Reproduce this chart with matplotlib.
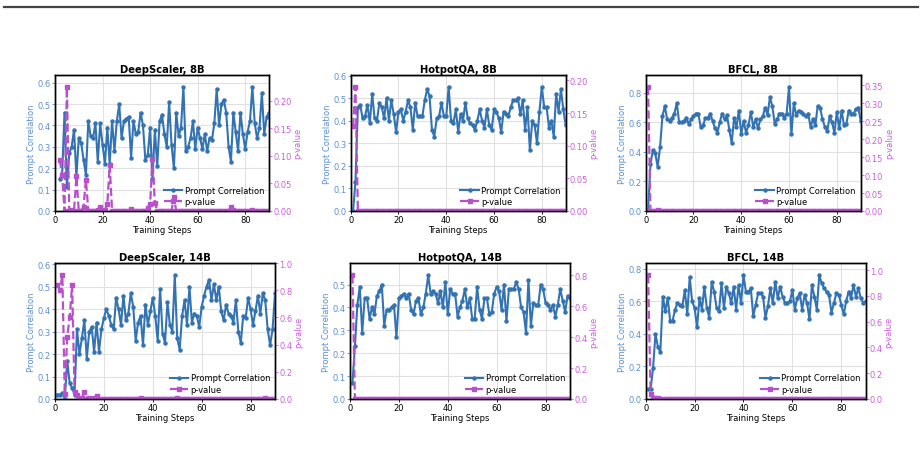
import numpy as np
import matplotlib
matplotlib.use("Agg")
import matplotlib.pyplot as plt
from matplotlib.ticker import MultipleLocator, FormatStrFormatter
from matplotlib.lines import Line2D

plt.rcParams['font.family'] = ['DejaVu Sans']

titles = ["DeepScaler, 8B", "HotpotQA, 8B", "BFCL, 8B",
          "DeepScaler, 14B", "HotpotQA, 14B", "BFCL, 14B"]

ds8_start = 2
ds8_corr = [0.15, 0.17, 0.46, 0.11, 0.27, 0.30, 0.38, 0.16, 0.34, 0.32,
            0.24, 0.17, 0.42, 0.35, 0.34, 0.41, 0.23, 0.41, 0.31, 0.22,
            0.39, 0.22, 0.42, 0.28, 0.42, 0.50, 0.34, 0.42, 0.43, 0.44,
            0.25, 0.42, 0.36, 0.37, 0.46, 0.40, 0.24, 0.26, 0.39, 0.15,
            0.38, 0.21, 0.42, 0.45, 0.36, 0.30, 0.51, 0.31, 0.20, 0.46,
            0.35, 0.39, 0.58, 0.28, 0.30, 0.34, 0.42, 0.29, 0.39, 0.34,
            0.29, 0.36, 0.28, 0.34, 0.33, 0.41, 0.57, 0.40, 0.50, 0.52,
            0.46, 0.30, 0.23, 0.46, 0.37, 0.28, 0.46, 0.36, 0.29, 0.37,
            0.42, 0.58, 0.41, 0.34, 0.39, 0.55, 0.36, 0.44, 0.46]
ds8_p = [0.093, 0.065, 0.0, 0.225, 0.0, 0.002, 0.0, 0.063, 0.0, 0.0,
         0.008, 0.057, 0.0, 0.0, 0.0, 0.0, 0.002, 0.008, 0.0, 0.002,
         0.012, 0.083, 0.0, 0.0, 0.0, 0.0, 0.0, 0.0, 0.0, 0.0,
         0.003, 0.0, 0.0, 0.0, 0.0, 0.0, 0.0, 0.006, 0.012, 0.095,
         0.015, 0.0, 0.0, 0.0, 0.0, 0.0, 0.0, 0.0, 0.025, 0.0,
         0.0, 0.0, 0.0, 0.0, 0.0, 0.0, 0.0, 0.0, 0.0, 0.0,
         0.0, 0.0, 0.0, 0.0, 0.0, 0.0, 0.0, 0.0, 0.0, 0.0,
         0.0, 0.0, 0.008, 0.002, 0.0, 0.0, 0.0, 0.0, 0.0, 0.0,
         0.0, 0.001, 0.0, 0.0, 0.0, 0.0, 0.0, 0.0, 0.0]

hq8_corr = [0.00, 0.13, 0.46, 0.47, 0.41, 0.42, 0.47, 0.39, 0.52, 0.41,
            0.40, 0.48, 0.46, 0.41, 0.50, 0.40, 0.49, 0.43, 0.35, 0.44,
            0.45, 0.40, 0.44, 0.49, 0.46, 0.36, 0.48, 0.42, 0.42, 0.42,
            0.49, 0.54, 0.51, 0.36, 0.33, 0.41, 0.42, 0.48, 0.42, 0.42,
            0.55, 0.40, 0.39, 0.45, 0.35, 0.43, 0.40, 0.48, 0.41, 0.39,
            0.38, 0.36, 0.40, 0.45, 0.40, 0.37, 0.45, 0.38, 0.36, 0.45,
            0.44, 0.41, 0.35, 0.44, 0.43, 0.42, 0.46, 0.49, 0.49, 0.50,
            0.43, 0.49, 0.36, 0.46, 0.27, 0.40, 0.38, 0.30, 0.44, 0.55,
            0.46, 0.46, 0.37, 0.40, 0.33, 0.52, 0.44, 0.54, 0.45, 0.38]
hq8_p = [0.13, 0.19] + [0.0] * 88

bf8_corr = [0.00, 0.32, 0.41, 0.39, 0.30, 0.43, 0.64, 0.71, 0.62, 0.61,
            0.63, 0.66, 0.73, 0.60, 0.60, 0.61, 0.63, 0.59, 0.62, 0.64,
            0.66, 0.66, 0.57, 0.58, 0.63, 0.63, 0.66, 0.61, 0.56, 0.53,
            0.60, 0.66, 0.62, 0.65, 0.55, 0.46, 0.63, 0.57, 0.68, 0.52,
            0.61, 0.53, 0.58, 0.67, 0.57, 0.62, 0.56, 0.62, 0.64, 0.70,
            0.65, 0.77, 0.71, 0.59, 0.62, 0.66, 0.66, 0.63, 0.66, 0.84,
            0.52, 0.73, 0.65, 0.68, 0.67, 0.66, 0.64, 0.66, 0.57, 0.62,
            0.58, 0.71, 0.70, 0.62, 0.57, 0.54, 0.64, 0.60, 0.53, 0.67,
            0.56, 0.68, 0.58, 0.59, 0.68, 0.66, 0.66, 0.69, 0.70, 0.61]
bf8_p = [0.345, 0.0, 0.0, 0.0, 0.002] + [0.0] * 85

ds14_corr = [0.02, 0.02, 0.025, 0.00, 0.17, 0.07, 0.05, 0.02, 0.31, 0.20,
             0.27, 0.35, 0.18, 0.30, 0.32, 0.21, 0.34, 0.21, 0.31, 0.36,
             0.40, 0.37, 0.33, 0.31, 0.45, 0.40, 0.33, 0.46, 0.35, 0.38,
             0.47, 0.41, 0.26, 0.34, 0.37, 0.24, 0.42, 0.33, 0.39, 0.45,
             0.37, 0.26, 0.49, 0.29, 0.25, 0.43, 0.33, 0.30, 0.55, 0.27,
             0.22, 0.37, 0.44, 0.33, 0.50, 0.34, 0.38, 0.37, 0.32, 0.41,
             0.46, 0.50, 0.53, 0.44, 0.51, 0.44, 0.50, 0.39, 0.35, 0.42,
             0.38, 0.37, 0.34, 0.44, 0.30, 0.25, 0.37, 0.36, 0.45, 0.40,
             0.33, 0.39, 0.46, 0.38, 0.47, 0.44, 0.31, 0.24, 0.31, 0.47,
             0.26, 0.38]
ds14_p = [0.84, 0.80, 0.91, 0.04, 0.46, 0.60, 0.84, 0.05, 0.03, 0.01,
          0.005, 0.05, 0.0, 0.005, 0.002, 0.01, 0.02, 0.0, 0.0, 0.0,
          0.0, 0.0, 0.0, 0.0, 0.0, 0.0, 0.0, 0.0, 0.0, 0.0,
          0.0, 0.0, 0.0, 0.0, 0.01, 0.0, 0.0, 0.0, 0.0, 0.0,
          0.0, 0.0, 0.0, 0.0, 0.0, 0.0, 0.0, 0.0, 0.0, 0.01,
          0.0, 0.0, 0.0, 0.0, 0.0, 0.0, 0.0, 0.0, 0.0, 0.0,
          0.0, 0.0, 0.0, 0.0, 0.0, 0.0, 0.0, 0.0, 0.0, 0.0,
          0.0, 0.0, 0.0, 0.0, 0.0, 0.0, 0.0, 0.0, 0.0, 0.0,
          0.0, 0.0, 0.0, 0.0, 0.0, 0.01, 0.0, 0.0, 0.0, 0.0,
          0.0, 0.0]

hq14_corr = [0.07, 0.23, 0.41, 0.49, 0.29, 0.44, 0.44, 0.35, 0.40, 0.37,
             0.45, 0.47, 0.50, 0.32, 0.39, 0.39, 0.40, 0.41, 0.27, 0.44,
             0.45, 0.46, 0.44, 0.46, 0.39, 0.37, 0.43, 0.44, 0.37, 0.40,
             0.46, 0.54, 0.46, 0.47, 0.46, 0.42, 0.47, 0.40, 0.51, 0.37,
             0.48, 0.46, 0.46, 0.36, 0.40, 0.43, 0.48, 0.40, 0.44, 0.35,
             0.35, 0.49, 0.39, 0.35, 0.44, 0.44, 0.37, 0.38, 0.46, 0.49,
             0.47, 0.39, 0.50, 0.34, 0.48, 0.48, 0.48, 0.51, 0.48, 0.40,
             0.38, 0.29, 0.52, 0.32, 0.42, 0.41, 0.41, 0.50, 0.48, 0.42,
             0.41, 0.39, 0.41, 0.36, 0.41, 0.48, 0.43, 0.38, 0.45, 0.44]
hq14_p = [0.80] + [0.0] * 89

bf14_corr = [0.06, 0.06, 0.19, 0.40, 0.32, 0.29, 0.63, 0.54, 0.62, 0.48,
             0.48, 0.55, 0.59, 0.58, 0.57, 0.67, 0.52, 0.75, 0.60, 0.56,
             0.44, 0.62, 0.55, 0.69, 0.56, 0.50, 0.72, 0.66, 0.56, 0.54,
             0.71, 0.56, 0.69, 0.65, 0.59, 0.69, 0.55, 0.70, 0.59, 0.76,
             0.66, 0.66, 0.68, 0.51, 0.58, 0.65, 0.65, 0.63, 0.50, 0.57,
             0.68, 0.59, 0.72, 0.62, 0.69, 0.63, 0.59, 0.59, 0.60, 0.67,
             0.55, 0.62, 0.65, 0.55, 0.64, 0.59, 0.49, 0.70, 0.63, 0.55,
             0.76, 0.71, 0.68, 0.66, 0.64, 0.53, 0.59, 0.65, 0.64, 0.58,
             0.52, 0.60, 0.66, 0.62, 0.70, 0.63, 0.68, 0.62, 0.59, 0.60]
bf14_p = [0.96, 0.04, 0.01, 0.005, 0.01] + [0.0] * 85

panels = [
    (ds8_start, ds8_corr, ds8_p),
    (1, hq8_corr, hq8_p),
    (1, bf8_corr, bf8_p),
    (1, ds14_corr, ds14_p),
    (1, hq14_corr, hq14_p),
    (1, bf14_corr, bf14_p),
]

left_steps = [0.1, 0.1, 0.2, 0.1, 0.1, 0.2]
right_steps = [0.05, 0.05, 0.05, 0.2, 0.2, 0.2]

# axes boxes in pixels: (left, top, right, bottom)
W, H = 921, 456
boxes = [(55, 75.5, 269, 212), (350.7, 75.5, 565.7, 212), (645.7, 75.5, 860.7, 212),
         (55, 264, 275, 400), (350, 264, 570, 400), (645.7, 264, 865.7, 400)]

corr_color = "#3373b3"
p_color = "#b84fcc"
left_lab_color = "#5b8fd4"
right_lab_color = "#cc5fdc"
fs = 6.0

fig = plt.figure(figsize=(W / 100, H / 100), dpi=100)

for i, (start, corr, pv) in enumerate(panels):
    l, t, r, b = boxes[i]
    ax = fig.add_axes([l / W, (H - b) / H, (r - l) / W, (b - t) / H])
    ax2 = ax.twinx()
    steps_c = np.arange(start, start + len(corr))
    steps_p = np.arange(start, start + len(pv))
    h1, = ax.plot(steps_c, corr, color=corr_color, lw=1.5, marker='o', ms=2.2,
                  label='Prompt Correlation', zorder=3)
    h2, = ax2.plot(steps_p, pv, color=p_color, lw=1.6, ls='--', marker='s', ms=2.2,
                   label='p-value', zorder=2)
    ax.set_xlim(0, 90)
    ax.set_ylim(0, max(corr) * 1.1)
    ax2.set_ylim(0, max(pv) * 1.1)
    ax.xaxis.set_major_locator(MultipleLocator(20))
    ax.yaxis.set_major_locator(MultipleLocator(left_steps[i]))
    ax2.yaxis.set_major_locator(MultipleLocator(right_steps[i]))
    ax.grid(True, color='#e0e0e0', lw=0.8)
    ax.set_axisbelow(True)
    ax.set_title(titles[i], fontsize=7.2, fontweight='bold', pad=2)
    ax.set_xlabel('Training Steps', fontsize=fs, labelpad=0.5)
    ax.set_ylabel('Prompt Correlation', fontsize=fs, color=left_lab_color, labelpad=1)
    ax2.set_ylabel('p-value', fontsize=fs, color=right_lab_color, labelpad=1)
    ax.tick_params(axis='y', labelsize=fs, colors=left_lab_color, length=2, width=0.6, pad=1)
    ax.tick_params(axis='x', labelsize=fs, length=2, width=0.6, pad=1)
    ax2.tick_params(axis='y', labelsize=fs, colors=right_lab_color, length=2, width=0.6, pad=1)
    ax.yaxis.set_major_formatter(FormatStrFormatter('%.1f'))
    if right_steps[i] < 0.1:
        ax2.yaxis.set_major_formatter(FormatStrFormatter('%.2f'))
    else:
        ax2.yaxis.set_major_formatter(FormatStrFormatter('%.1f'))
    for a in (ax, ax2):
        for s in a.spines.values():
            s.set_color('black')
            s.set_linewidth(1.0)
    ax2.legend([h1, h2], ['Prompt Correlation', 'p-value'], loc='lower right',
               fontsize=fs, frameon=False, borderaxespad=0.2, handlelength=2.2,
               labelspacing=0.3, handletextpad=0.3)

fig.add_artist(Line2D([4 / W, 918 / W], [(H - 7.5) / H, (H - 7.5) / H],
                      color='#444444', lw=1.6, transform=fig.transFigure))

fig.savefig('out.png', dpi=100)
